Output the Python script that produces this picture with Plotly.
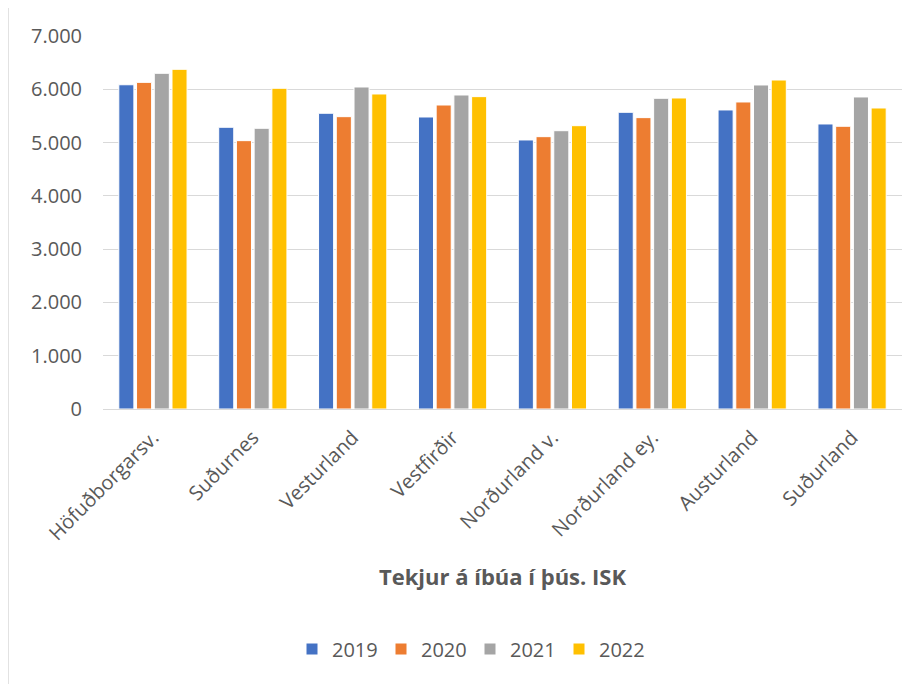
import plotly.graph_objects as go

categories = ["Höfuðborgarsv.", "Suðurnes", "Vesturland", "Vestfirðir",
              "Norðurland v.", "Norðurland ey.", "Austurland", "Suðurland"]
years = ["2019", "2020", "2021", "2022"]
v2019 = [6085, 5287, 5550, 5480, 5049, 5568, 5612, 5349]
v2020 = [6130, 5036, 5486, 5705, 5111, 5468, 5762, 5306]
v2021 = [6300, 5268, 6043, 5893, 5223, 5831, 6081, 5856]
v2022 = [6375, 6019, 5912, 5862, 5317, 5837, 6174, 5649]
series = [v2019, v2020, v2021, v2022]
colors = ["#4472C4", "#ED7D31", "#A5A5A5", "#FFC000"]
ytickvals = [0, 1000, 2000, 3000, 4000, 5000, 6000, 7000]
yticktext = ["0", "1.000", "2.000", "3.000", "4.000", "5.000", "6.000", "7.000"]
xtitle = "Tekjur á íbúa í þús. ISK"

# page body has an 8px margin; figure coordinates are offset by it
OFF = 8
W, H = 917 - OFF, 684 - OFF
ml, mt = 103 - OFF, 36 - OFF
mr = 917 - 902
mb = H - (409 - OFF)
pw = W - ml - mr
ph = H - mt - mb

fig = go.Figure()
for name, vals, c in zip(years, series, colors):
    fig.add_trace(go.Bar(x=categories, y=vals, name=name,
                         marker=dict(color=c, line=dict(color="white", width=1))))

font = "Open Sans, sans-serif"
fig.update_layout(
    width=W, height=H,
    margin=dict(l=ml, r=mr, t=mt, b=mb, autoexpand=False),
    paper_bgcolor="white", plot_bgcolor="white",
    font=dict(family=font, size=20, color="#595959"),
    barmode="group", bargap=0.29, bargroupgap=0.15,
    showlegend=True,
    legend=dict(orientation="h", x=(470 - OFF - ml) / pw, xanchor="center",
                y=-(649 - OFF - (mt + ph)) / ph, yanchor="middle",
                font=dict(size=20, color="#595959"),
                entrywidth=44, entrywidthmode="pixels",
                itemwidth=30, traceorder="normal"),
    xaxis=dict(tickangle=-45, showline=True, linecolor="#D9D9D9", linewidth=1,
               showgrid=False, ticks="outside", ticklen=8, tickcolor="rgba(0,0,0,0)",
               automargin=False,
               tickfont=dict(size=20),
               title=dict(text="<b>" + xtitle + "</b>", standoff=24,
                          font=dict(size=22, color="#595959"))),
    yaxis=dict(range=[0, 7000], tickvals=ytickvals, ticktext=yticktext,
               showgrid=True, gridcolor="#D9D9D9", gridwidth=1,
               zeroline=False, showline=False, ticks="",
               ticklabelstandoff=20, automargin=False,
               tickfont=dict(size=20)),
)
fig.add_shape(type="line", xref="paper", yref="paper",
              x0=(0 - ml) / pw, x1=(0 - ml) / pw,
              y0=(H - mb) / ph + 0.1, y1=-mb / ph,
              line=dict(color="#D9D9D9", width=1.5))
fig.write_html("out.html")
